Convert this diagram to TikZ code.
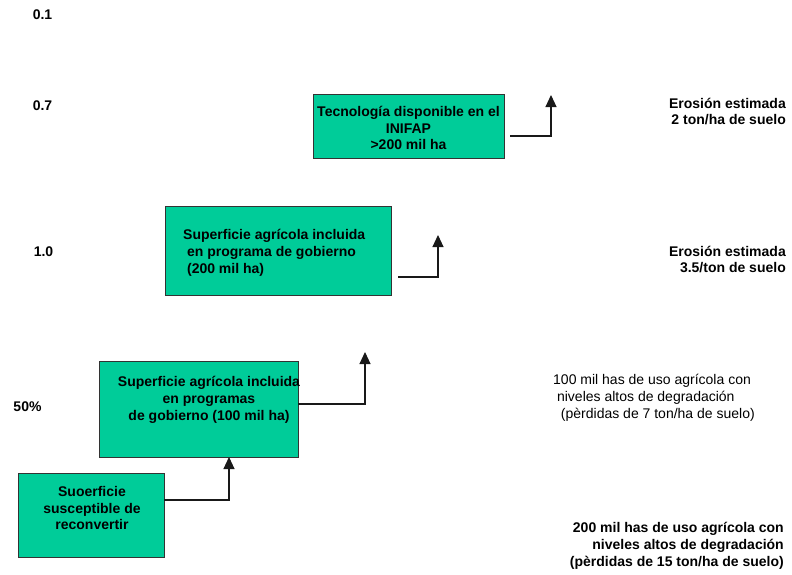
\documentclass[tikz,border=0pt]{standalone}
\usepackage{fontspec}
\setmainfont{Liberation Sans}
\usetikzlibrary{arrows.meta}
\definecolor{boxgreen}{RGB}{0,204,153}
\tikzset{
  box/.style={draw=black!80, line width=0.9pt, fill=boxgreen, inner sep=0pt},
  txt/.style={font=\fontsize{14}{16.8}\selectfont\bfseries, inner sep=0pt},
  arr/.style={-{Triangle[width=11pt,length=12pt]}, line width=1.1pt, black!90}
}
\begin{document}
\begin{tikzpicture}[x=1pt, y=-1pt]
                    \useasboundingbox (0,0) rectangle (792,574);
                    \node[box, minimum width=191pt, minimum height=64pt] (tec) at (408.5,126) {};
                    \node[box, minimum width=226pt, minimum height=89pt] (sup2) at (278,250.5) {};
                    \node[box, minimum width=199pt, minimum height=96pt] (sup1) at (198.5,409) {};
                    \node[box, minimum width=146pt, minimum height=84pt] (suo) at (91,515) {};
                    \node[txt, align=center] (tectxt) at (408.5,128) {Tecnología disponible en el\\INIFAP\\>200 mil ha};
                    \node[txt, align=left, anchor=west] (sup2txt) at (183,253) {Superficie agrícola incluida\\\ en programa de gobierno\\\ (200 mil ha)};
                    \node[txt, align=center] (sup1txt) at (209,400) {Superficie agrícola incluida\\en programas\\de gobierno (100 mil ha)};
                    \node[txt, align=center] (suotxt) at (92,508) {Suoerficie\\susceptible de\\reconvertir};
                    \coordinate (tecout) at (510,136);
                    \coordinate (tectop) at (551,95);
                    \coordinate (sup2out) at (398,277);
                    \coordinate (sup2top) at (438,235);
                    \coordinate (sup1top) at (365,352);
                    \coordinate (suotop) at (229,457);
                    \draw[arr] (tecout) -| (tectop);
                    \draw[arr] (sup2out) -| (sup2top);
                    \draw[arr] (sup1.east |- 0,404) -| (sup1top);
                    \draw[arr] (suo.east |- 0,500) -| (suotop);
                    \node[txt] (v01) at (42.5,15) {0.1};
                    \node[txt] (v07) at (42.5,106) {0.7};
                    \node[txt] (v10) at (43.5,252) {1.0};
                    \node[txt] (v50) at (27.5,407) {50\%};
                    \node[txt, align=right, anchor=east] (ero2) at (786,111.5) {Erosión estimada\\2 ton/ha de suelo};
                    \node[txt, align=right, anchor=east] (ero35) at (786,259.5) {Erosión estimada\\3.5/ton de suelo};
                    \node[txt, font=\fontsize{14}{16.8}\selectfont, align=left, anchor=west] (deg100) at (553,398) {100 mil has de uso agrícola con\\\ niveles altos de degradación\\\ \ (pèrdidas de 7 ton/ha de suelo)};
                    \node[txt, align=right, anchor=east] (deg200) at (784,546) {200 mil has de uso agrícola con\\niveles altos de degradación\\(pèrdidas de 15 ton/ha de suelo)};
\end{tikzpicture}
\end{document}
